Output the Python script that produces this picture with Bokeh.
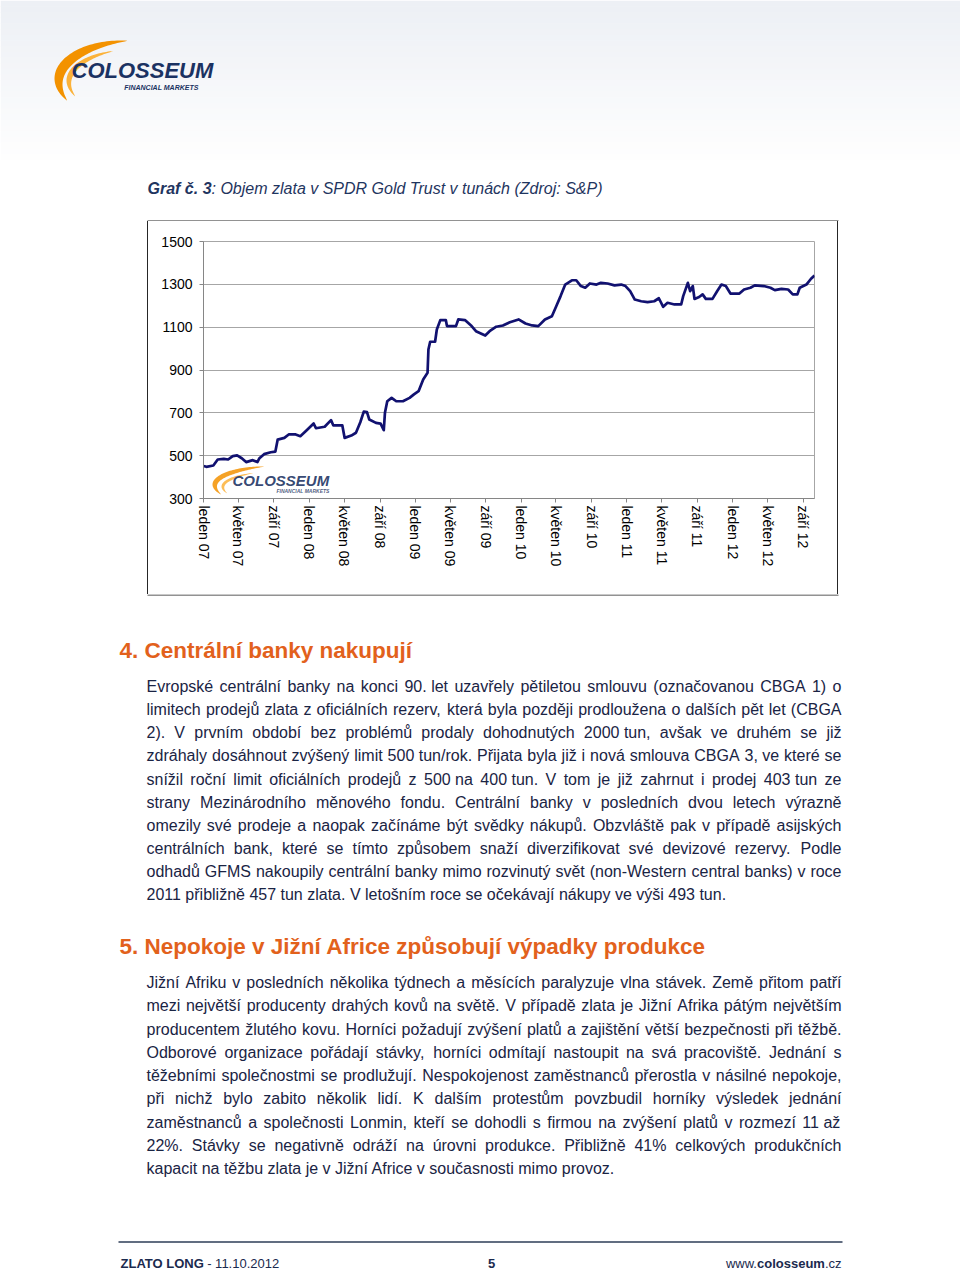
import re
import unicodedata
import numpy as np
import pandas as pd
from bokeh.plotting import figure
from bokeh.models import Range1d, FixedTicker, Spacer
from bokeh.layouts import column, row
from bokeh.embed import file_html
from bokeh.resources import INLINE
from bokeh.core.properties import value

# ---------------- data ----------------
dates = ["2007-01-01","2007-01-11","2007-02-04","2007-02-19","2007-03-12","2007-03-27","2007-04-12","2007-04-27",
         "2007-05-13","2007-05-28","2007-06-20","2007-07-06","2007-07-13","2007-07-29","2007-08-21","2007-09-06",
         "2007-09-14","2007-10-07","2007-10-22","2007-11-15","2007-12-01","2007-12-23",
         "2008-01-16","2008-01-24","2008-02-23","2008-03-16","2008-03-24","2008-04-24","2008-05-02","2008-05-25",
         "2008-06-10","2008-06-25","2008-07-07","2008-07-18","2008-07-26","2008-08-18","2008-09-03","2008-09-14",
         "2008-09-18","2008-09-26","2008-10-11","2008-10-27","2008-11-19","2008-12-12","2008-12-27",
         "2009-01-12","2009-01-28","2009-02-12","2009-02-15","2009-02-21","2009-03-10","2009-03-16","2009-03-28",
         "2009-04-16","2009-04-20","2009-05-21","2009-05-29","2009-06-21","2009-07-14","2009-07-29","2009-08-30",
         "2009-09-14","2009-10-07","2009-10-30","2009-11-23","2009-12-23",
         "2010-01-16","2010-02-08","2010-03-01","2010-03-24","2010-04-17","2010-05-02","2010-05-17","2010-06-02",
         "2010-06-25","2010-07-10","2010-07-26","2010-08-10","2010-08-26","2010-09-18","2010-10-03","2010-10-26",
         "2010-11-19","2010-12-12","2010-12-27",
         "2011-01-12","2011-01-28","2011-02-19","2011-03-13","2011-04-05","2011-04-21","2011-05-06","2011-05-21",
         "2011-06-14","2011-07-07","2011-07-14","2011-07-30","2011-08-07","2011-08-16","2011-08-22","2011-09-07",
         "2011-09-19","2011-09-30","2011-10-23","2011-11-08","2011-11-23","2011-12-08","2011-12-24",
         "2012-01-24","2012-02-09","2012-03-02","2012-03-17","2012-04-17","2012-05-10","2012-05-25","2012-06-17",
         "2012-07-10","2012-07-26","2012-08-11","2012-08-19","2012-09-11","2012-09-27","2012-10-09"]

tonnes = [452,448,454,482,485,482,498,501,488,470,479,470,488,507,516,519,575,583,599,599,591,619,
          650,628,635,666,641,641,583,594,607,656,706,703,669,653,650,619,700,754,770,754,754,770,786,
          801,856,887,996,1032,1032,1089,1133,1133,1105,1105,1136,1133,1105,1081,1061,1081,1102,1108,1123,1136,
          1117,1108,1105,1136,1151,1198,1245,1299,1319,1319,1292,1284,1304,1299,1307,1304,1295,1299,1292,
          1268,1229,1221,1217,1221,1235,1195,1214,1206,1206,1245,1307,1268,1292,1232,1241,1253,1232,1232,1268,
          1299,1292,1257,
          1257,1276,1284,1295,1292,1284,1273,1279,1276,1253,1253,1284,1299,1326,1341]

x_start, x_end = "2007-01-01", "2012-10-09"

tick_dates = ["2007-01-01","2007-05-01","2007-09-01","2008-01-01","2008-05-01","2008-09-01",
              "2009-01-01","2009-05-01","2009-09-01","2010-01-01","2010-05-01","2010-09-01",
              "2011-01-01","2011-05-01","2011-09-01","2012-01-01","2012-05-01","2012-09-01"]
tick_labels = ["leden 07","květen 07","září 07","leden 08","květen 08","září 08",
               "leden 09","květen 09","září 09","leden 10","květen 10","září 10",
               "leden 11","květen 11","září 11","leden 12","květen 12","září 12"]
y_ticks = [300, 500, 700, 900, 1100, 1300, 1500]

title_bold = "Graf č. 3"
title_rest = ": Objem zlata v SPDR Gold Trust v tunách (Zdroj: S&P)"

heading1 = "4. Centrální banky nakupují"
para1 = ["Evropské centrální banky na konci 90. let uzavřely pětiletou smlouvu (označovanou CBGA 1) o",
         "limitech prodejů zlata z oficiálních rezerv, která byla později prodloužena o dalších pět let (CBGA",
         "2). V prvním období bez problémů prodaly dohodnutých 2000 tun, avšak ve druhém se již",
         "zdráhaly dosáhnout zvýšený limit 500 tun/rok. Přijata byla již i nová smlouva CBGA 3, ve které se",
         "snížil roční limit oficiálních prodejů z 500 na 400 tun. V tom je již zahrnut i prodej 403 tun ze",
         "strany Mezinárodního měnového fondu. Centrální banky v posledních dvou letech výrazně",
         "omezily své prodeje a naopak začínáme být svědky nákupů. Obzvláště pak v případě asijských",
         "centrálních bank, které se tímto způsobem snaží diverzifikovat své devizové rezervy. Podle",
         "odhadů GFMS nakoupily centrální banky mimo rozvinutý svět (non-Western central banks) v roce",
         "2011 přibližně 457 tun zlata. V letošním roce se očekávají nákupy ve výši 493 tun."]
heading2 = "5. Nepokoje v Jižní Africe způsobují výpadky produkce"
para2 = ["Jižní Afriku v posledních několika týdnech a měsících paralyzuje vlna stávek. Země přitom patří",
         "mezi největší producenty drahých kovů na světě. V případě zlata je Jižní Afrika pátým největším",
         "producentem žlutého kovu. Horníci požadují zvýšení platů a zajištění větší bezpečnosti při těžbě.",
         "Odborové organizace pořádají stávky, horníci odmítají nastoupit na svá pracoviště. Jednání s",
         "těžebními společnostmi se prodlužují. Nespokojenost zaměstnanců přerostla v násilné nepokoje,",
         "při nichž bylo zabito několik lidí. K dalším protestům povzbudil horníky výsledek jednání",
         "zaměstnanců a společnosti Lonmin, kteří se dohodli s firmou na zvýšení platů v rozmezí 11 až",
         "22%. Stávky se negativně odráží na úrovni produkce. Přibližně 41% celkových produkčních",
         "kapacit na těžbu zlata je v Jižní Africe v současnosti mimo provoz."]

footer_bold = "ZLATO  LONG"
footer_rest = " - 11.10.2012"
footer_page = "5"
footer_web = ["www.", "colosseum", ".cz"]

# ---------------- helpers ----------------
FONT = "Liberation Sans"
NAVY = "#1f3560"
BODY = "#1a2444"
ORANGE = "#e2611c"
BOX = "#262626"

REG = {' ':278,'%':889,'&':667,'(':333,')':333,',':278,'-':333,'.':278,'/':278,':':278,
       'A':667,'B':667,'C':722,'D':722,'E':667,'F':611,'G':778,'H':722,'I':278,'J':500,'K':667,'L':556,'M':833,
       'N':722,'O':778,'P':667,'Q':778,'R':722,'S':667,'T':611,'U':722,'V':667,'W':944,'X':667,'Y':667,'Z':611,
       'a':556,'b':556,'c':500,'d':556,'e':556,'f':278,'g':556,'h':556,'i':222,'j':222,'k':500,'l':222,'m':833,
       'n':556,'o':556,'p':556,'q':556,'r':333,'s':500,'t':278,'u':556,'v':500,'w':722,'x':500,'y':500,'z':500}
for d in "0123456789":
    REG[d] = 556
BOLD = dict(REG)
BOLD.update({'A':722,'B':722,'J':556,'K':722,'b':611,'c':556,'d':611,'f':333,'g':611,'h':611,'i':278,'j':278,
             'k':556,'l':278,'m':889,'n':611,'o':611,'p':611,'q':611,'r':389,'s':556,'t':333,'u':611,'v':556,
             'w':778,'x':556,'y':556,':':333})


def tw(s, size, bold=False):
    tab = BOLD if bold else REG
    tot = 0
    for ch in s:
        base = unicodedata.normalize("NFD", ch)[0]
        w = tab.get(base, 556)
        if ch in "íÍ":
            w = 278
        tot += w
    return tot * size / 1000.0


def to_ms(lst):
    return (pd.to_datetime(lst) - pd.Timestamp("1970-01-01")) // pd.Timedelta(milliseconds=1)


def page_fig(x0, x1, y0, y1):
    """A blank figure whose data coordinates are page pixels."""
    p = figure(width=x1 - x0, height=y1 - y0, x_range=Range1d(x0, x1), y_range=Range1d(y1, y0),
               output_backend="svg", toolbar_location=None, min_border=0,
               x_axis_location=None, y_axis_location=None)
    p.grid.visible = False
    p.outline_line_color = None
    p.background_fill_color = "white"
    p.border_fill_color = "white"
    return p


def txt(p, x, y, s, size, color, style="normal", font=FONT, align="left", alpha=1.0, **kw):
    # y is the visual (cap-height) centre of the text
    p.text(x=[x], y=[y], text=[s], text_font=value(font), text_font_size=f"{size}px",
           text_font_style=style, text_color=color, text_align=align, text_baseline="middle",
           text_alpha=alpha, **kw)


NUMERIC = re.compile(r"^[\d.,]+$")


def chunks(line):
    """Split a line into words; purely numeric words are kept together with the next word."""
    words = line.split(" ")
    out = []
    carry = None
    for w in words:
        if carry is not None:
            w = carry + " " + w
            carry = None
        if NUMERIC.match(w):
            carry = w
            continue
        out.append(w)
    if carry is not None:
        if out:
            out[-1] = out[-1] + " " + carry
        else:
            out.append(carry)
    return out


def justified(p, line, x0, x1, y, size, color, last=False):
    if last:
        txt(p, x0, y, line, size, color)
        return
    words = chunks(line)
    ws = np.array([tw(w, size) for w in words])
    gap = (x1 - x0 - ws.sum()) / (len(words) - 1)
    gap = max(gap, 0.6 * tw(" ", size))
    xs = x0 + np.concatenate([[0.0], np.cumsum(ws[:-1] + gap)])
    p.text(x=[float(v) for v in xs], y=[y] * len(words), text=words, text_font=value(FONT),
           text_font_size=f"{size}px", text_color=color, text_align="left", text_baseline="middle")


def crescent(p, cx, cy, rx, ry, t0, t1, thick, color, alpha=1.0, **kw):
    th = np.radians(np.linspace(t0, t1, 60))
    w = thick * np.sin(np.pi * (th - th[0]) / (th[-1] - th[0])) ** 0.8
    ox = cx + rx * np.cos(th)
    oy = cy - ry * np.sin(th)
    ix = cx + (rx - w) * np.cos(th)
    iy = cy - (ry - w * 0.8) * np.sin(th)
    p.patch(np.concatenate([ox, ix[::-1]]), np.concatenate([oy, iy[::-1]]),
            fill_color=color, line_color=None, fill_alpha=alpha, **kw)


# chart box on the page: edges at pixel columns 147 and 837, rows 220 and 594
BX0, BX1 = 148, 837      # chart figure horizontal extent (inside the edges)
BY0, BY1 = 221, 594      # chart figure vertical extent (inside the edges)

# ---------------- top section ----------------
top = page_fig(0, 960, 0, BY0)
bands = np.linspace(0, 165, 30)
for i in range(len(bands) - 1):
    f = i / (len(bands) - 2)
    r = int(237 + (255 - 237) * f); g = int(240 + (255 - 240) * f); b = int(245 + (255 - 245) * f)
    top.quad(left=0, right=960, top=bands[i], bottom=bands[i + 1] + 0.5,
             fill_color=f"#{r:02x}{g:02x}{b:02x}", line_color=None)
crescent(top, 120, 78, 66, 38, 84, 216, 11, "#f39200")
crescent(top, 123, 80, 57, 30, 100, 212, 6, "#fbb23a")
txt(top, 71, 70, "COLOSSEUM", 22, "#1b3262", style="bold italic")
txt(top, 198, 87, "FINANCIAL MARKETS", 7, "#1b3262", style="bold italic", align="right")
txt(top, 147, 188, title_bold, 16, NAVY, style="bold italic")
txt(top, 147 + tw(title_bold, 16, bold=True), 188, title_rest, 16, NAVY, style="italic")
top.segment(x0=[147], y0=[220.5], x1=[838], y1=[220.5], line_color=BOX, line_width=1.2)

# ---------------- chart ----------------
xs = to_ms(dates)
tick_ms = [int(t) for t in to_ms(tick_dates)]
chart = figure(width=BX1 - BX0, height=BY1 - BY0,
               x_range=Range1d(int(to_ms([x_start])[0]), int(to_ms([x_end])[0])),
               y_range=Range1d(300, 1500),
               output_backend="svg", toolbar_location=None,
               min_border_left=203 - BX0, min_border_right=BX1 - 814,
               min_border_top=241 - BY0, min_border_bottom=BY1 - 498)
chart.background_fill_color = "white"
chart.border_fill_color = "white"
chart.outline_line_color = "#a6a6a6"
chart.xgrid.visible = False
chart.ygrid.ticker = FixedTicker(ticks=y_ticks)
chart.ygrid.grid_line_color = "#a6a6a6"

chart.yaxis.ticker = FixedTicker(ticks=y_ticks)
chart.xaxis.ticker = FixedTicker(ticks=tick_ms)
chart.xaxis.major_label_overrides = {t: lab for t, lab in zip(tick_ms, tick_labels)}
chart.xaxis.major_label_orientation = "vertical"
for ax in (chart.xaxis, chart.yaxis):
    ax.axis_line_color = "#868686"
    ax.major_tick_line_color = "#868686"
    ax.minor_tick_line_color = None
    ax.major_tick_in = 0
    ax.major_tick_out = 4
    ax.major_label_text_font = FONT
    ax.major_label_text_font_size = "14px"
    ax.major_label_text_color = "#000000"
chart.yaxis.major_label_standoff = 7
chart.xaxis.major_label_standoff = 3

# watermark (decoration, positioned in page pixels via extra ranges)
chart.extra_x_ranges = {"px": Range1d(203, 814)}
chart.extra_y_ranges = {"py": Range1d(498, 241)}
crescent(chart, 262, 484, 50, 18, 88, 214, 6, "#f39200", alpha=0.85, x_range_name="px", y_range_name="py")
crescent(chart, 264, 486, 43, 14, 105, 210, 3.5, "#fbb23a", alpha=0.85, x_range_name="px", y_range_name="py")
txt(chart, 232, 480, "COLOSSEUM", 15, "#1b3262", style="bold italic", alpha=0.9,
    x_range_name="px", y_range_name="py")
txt(chart, 329, 490.5, "FINANCIAL MARKETS", 5, "#1b3262", style="bold italic", align="right", alpha=0.8,
    x_range_name="px", y_range_name="py")

chart.line(xs, tonnes, line_color="#111170", line_width=2.7, line_join="round")

edge_style = {"background-color": BOX}
middle = row(Spacer(width=147, height=BY1 - BY0),
             Spacer(width=1, height=BY1 - BY0, styles=edge_style),
             chart,
             Spacer(width=1, height=BY1 - BY0, styles=edge_style),
             Spacer(width=960 - BX1 - 1, height=BY1 - BY0))

# ---------------- bottom section ----------------
bot = page_fig(0, 960, BY1, 1271)
bot.segment(x0=[147], y0=[594.5], x1=[838], y1=[594.5], line_color=BOX, line_width=1.2)
txt(bot, 119, 650, heading1, 22.5, ORANGE, style="bold")
for i, line in enumerate(para1):
    justified(bot, line, 146, 841, 686 + i * 23.15, 16, BODY, last=(i == len(para1) - 1))
txt(bot, 119, 946, heading2, 22.5, ORANGE, style="bold")
for i, line in enumerate(para2):
    justified(bot, line, 146, 841, 982 + i * 23.25, 16, BODY, last=(i == len(para2) - 1))

bot.segment(x0=[118], y0=[1241.5], x1=[842], y1=[1241.5], line_color="#2d3c57", line_width=1.5)
fy = 1262.5
txt(bot, 120, fy, footer_bold, 13, "#1b2a4e", style="bold")
txt(bot, 120 + tw(footer_bold, 13, bold=True), fy, footer_rest, 13, "#1b2a4e")
txt(bot, 491, fy, footer_page, 13, "#1b2a4e", style="bold", align="center")
w_cz = tw(footer_web[2], 13)
w_col = tw(footer_web[1], 13, bold=True)
txt(bot, 841, fy, footer_web[2], 13, "#1b2a4e", align="right")
txt(bot, 841 - w_cz, fy, footer_web[1], 13, "#1b2a4e", style="bold", align="right")
txt(bot, 841 - w_cz - w_col, fy, footer_web[0], 13, "#1b2a4e", align="right")

layout = column(top, middle, bot)

open("out.html", "w").write(file_html(layout, INLINE))
